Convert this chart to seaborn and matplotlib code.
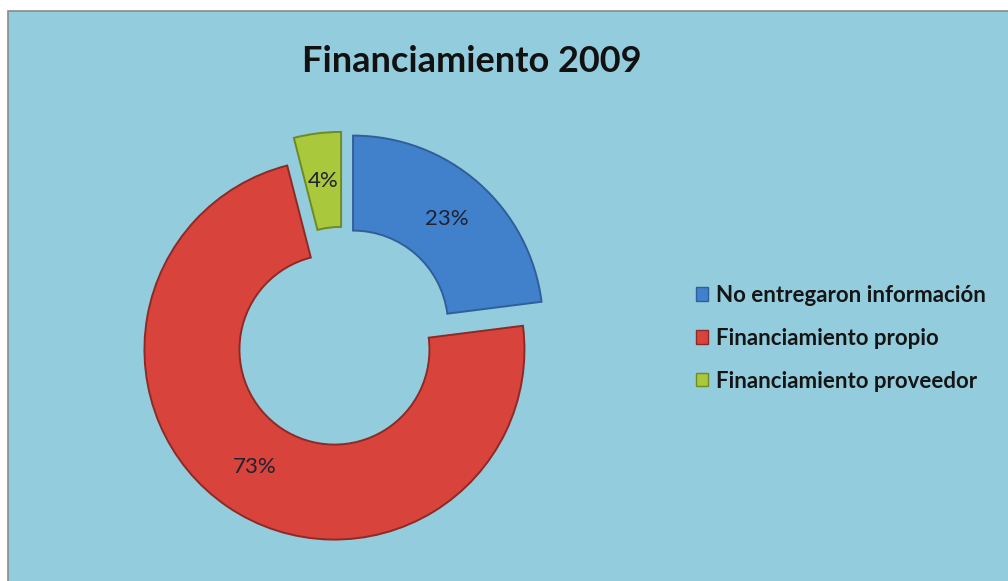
import seaborn as sns
import matplotlib.pyplot as plt
from matplotlib.patches import Rectangle, Patch

categories = ['No entregaron información', 'Financiamiento propio',
              'Financiamiento proveedor']
shares = [23, 73, 4]
title = 'Financiamiento 2009'

sns.set_style('white')
plt.rcParams['font.family'] = ['Lato', 'DejaVu Sans']

fills = sns.color_palette(['#4181CC', '#D8433C', '#A9C83C'])
edges = ['#2E5F99', '#8E2A26', '#6E8A22']
bg = '#93CDDD'

W, H = 1008, 581
fig = plt.figure(figsize=(W / 100, H / 100), dpi=100)
fig.patch.set_facecolor('white')

# chart area panel
fig.patches.append(Rectangle((8 / W, -0.05), 1.1, (H - 11) / H + 0.05,
                             transform=fig.transFigure, facecolor=bg,
                             edgecolor='#8a8a8a', linewidth=1.2, zorder=-5))

# donut: centre ~ (343, 337) px, radius ~190 px
lim = 1.25
size = 2 * lim * 190
cx, cy = 343, H - 337
ax = fig.add_axes([(cx - size / 2) / W, (cy - size / 2) / H, size / W, size / H])
ax.set_facecolor('none')

wedges, texts, autotexts = ax.pie(
    shares, colors=fills, startangle=90, counterclock=False,
    explode=[0.08, 0.08, 0.08], radius=1.0, pctdistance=0.75,
    autopct=lambda p: f'{p:.0f}%',
    wedgeprops=dict(width=0.5, linewidth=1.4),
    textprops=dict(fontsize=16, color='#1e2233'))
for w, ec in zip(wedges, edges):
    w.set_edgecolor(ec)
ax.set_xlim(-lim, lim)
ax.set_ylim(-lim, lim)
ax.set_aspect('equal')
ax.axis('off')

fig.text(472 / W, 1 - 62 / H, title, ha='center', va='center',
         fontsize=26, fontweight='bold', color='#111111')

handles = [Patch(facecolor=c, edgecolor=e, linewidth=1) for c, e in zip(fills, edges)]
fig.legend(handles, categories, loc='upper left',
           bbox_to_anchor=(676 / W, 1 - 265 / H), frameon=False,
           prop=dict(size=16, weight='bold'), labelspacing=0.98,
           handlelength=0.55, handleheight=0.55,
           handletextpad=0.35, labelcolor='#151515')

fig.savefig('out.png', dpi=100, facecolor=fig.get_facecolor())
